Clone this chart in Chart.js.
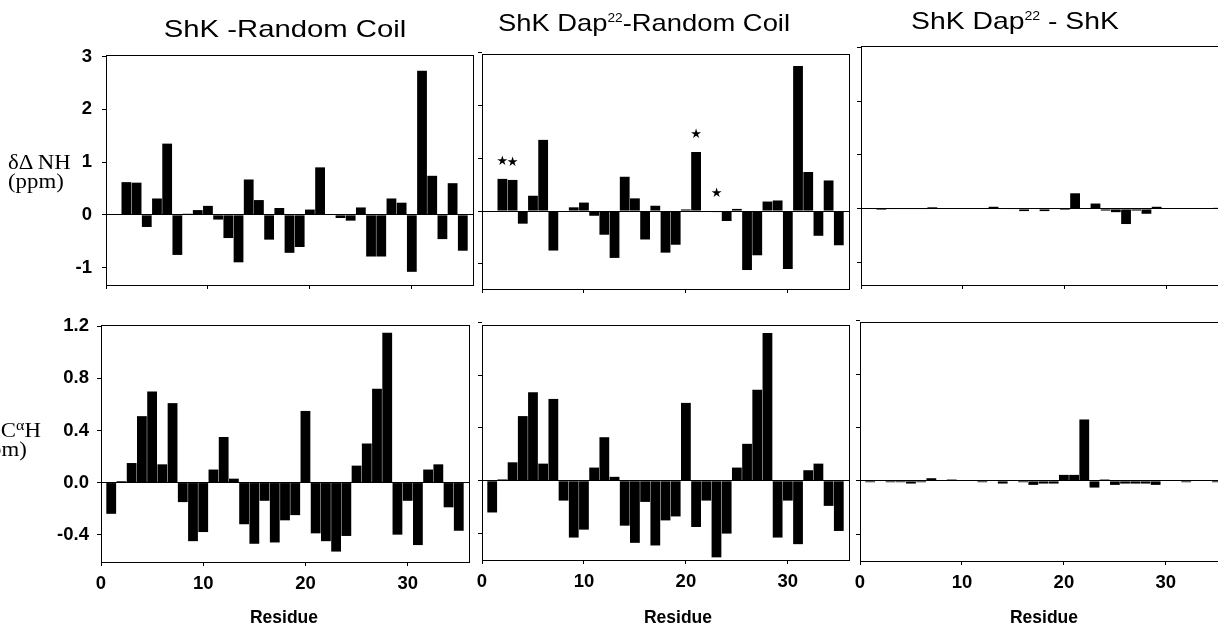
<!DOCTYPE html>
<html><head><meta charset="utf-8">
<script src="https://cdn.jsdelivr.net/npm/chart.js@4.4.1/dist/chart.umd.min.js"></script>
<style>
html,body{margin:0;padding:0;background:#fff;}
body{width:1218px;height:628px;overflow:hidden;position:relative;font-family:"Liberation Sans",Arial,sans-serif;color:#000;}
canvas{position:absolute;left:0;top:0;}
.title{position:absolute;font-size:24px;line-height:1;white-space:nowrap;transform:translateX(-50%) scaleX(1.22);}
.title sup{font-size:12px;line-height:0;vertical-align:baseline;position:relative;top:-9px;}
.ylab{position:absolute;font-family:"Liberation Serif","Times New Roman",serif;font-size:20px;line-height:19px;white-space:nowrap;transform-origin:left top;transform:scaleX(1.14);}
.ylab sup{font-size:14px;line-height:0;vertical-align:baseline;position:relative;top:-7px;}
.xlab{position:absolute;font-size:17.5px;font-weight:bold;line-height:1;transform:translateX(-50%);white-space:nowrap;}
</style></head>
<body>
<div class="title" style="left:285px;top:17px">ShK -Random Coil</div>
<div class="title" style="left:644px;top:11px;transform:translateX(-50%) scaleX(1.14)">ShK Dap<sup>22</sup>-Random Coil</div>
<div class="title" style="left:1015px;top:9px;transform:translateX(-50%) scaleX(1.18)">ShK Dap<sup>22</sup> - ShK</div>
<div class="ylab" style="left:8px;top:153px">δΔ NH<br>(ppm)</div>
<div class="ylab" style="left:-29px;top:421px">δΔ C<sup>α</sup>H<br>(ppm)</div>
<div class="xlab" style="left:284px;top:609px">Residue</div>
<div class="xlab" style="left:678px;top:609px">Residue</div>
<div class="xlab" style="left:1044px;top:609px">Residue</div>
<script>
// ---- data ----
const residues = [1,2,3,4,5,6,7,8,9,10,11,12,13,14,15,16,17,18,19,20,21,22,23,24,25,26,27,28,29,30,31,32,33,34,35];
const nhShK   = [null,0.62,0.61,-0.23,0.31,1.35,-0.76,0.02,0.09,0.17,-0.09,-0.44,-0.90,0.67,0.28,-0.47,0.13,-0.72,-0.61,0.10,0.90,0.01,-0.06,-0.11,0.14,-0.79,-0.79,0.31,0.23,-1.08,2.73,0.74,-0.46,0.60,-0.68];
const nhDap   = [null,0.61,0.59,-0.24,0.29,1.35,-0.75,0.01,0.07,0.16,-0.09,-0.45,-0.89,0.65,0.24,-0.54,0.10,-0.79,-0.64,0.03,1.12,0.00,-0.02,-0.19,0.04,-1.12,-0.84,0.18,0.20,-1.10,2.75,0.74,-0.47,0.58,-0.65];
const nhDiff  = [null,-0.02,-0.01,-0.01,-0.01,-0.01,0.03,0,0,0,0.01,0,0.04,0,-0.01,-0.04,0,-0.04,0,-0.02,0.29,0,0.10,-0.03,-0.06,-0.28,-0.03,-0.09,0.04,0,0,0,0,0,0.02];
const caShK   = [-0.24,0.01,0.15,0.51,0.70,0.14,0.61,-0.15,-0.45,-0.38,0.10,0.35,0.03,-0.32,-0.47,-0.14,-0.46,-0.29,-0.25,0.55,-0.39,-0.45,-0.53,-0.41,0.13,0.30,0.72,1.15,-0.40,-0.14,-0.48,0.10,0.14,-0.19,-0.37];
const caDap   = [-0.24,0.01,0.14,0.49,0.67,0.13,0.62,-0.15,-0.43,-0.37,0.10,0.33,0.03,-0.34,-0.47,-0.16,-0.49,-0.30,-0.27,0.59,-0.35,-0.15,-0.58,-0.40,0.10,0.28,0.69,1.12,-0.43,-0.15,-0.48,0.08,0.13,-0.19,-0.38];
const caDiff  = [-0.01,0,-0.01,-0.01,-0.02,-0.01,0.02,0,0.01,0,0,-0.01,0,-0.02,0,-0.01,-0.03,-0.02,-0.02,0.045,0.045,0.46,-0.05,0.01,-0.03,-0.02,-0.02,-0.02,-0.03,0,0,-0.01,0,0,-0.01];
const starResidues = [2,3,21,23];
const xTicks  = [0,10,20,30];
const nhTicks = [-1,0,1,2,3];
const caTicks = [-0.4,0,0.4,0.8,1.2];

// ---- layout ----
const W = 1260, H = 628, YW = 60;
const FONT = '"Liberation Sans", Arial, sans-serif';

const boxPlugin = {id:'box', afterDraw(chart){
  const {ctx, chartArea:a} = chart;
  ctx.save(); ctx.strokeStyle = '#000'; ctx.lineWidth = 1;
  ctx.strokeRect(Math.round(a.left)+0.5, Math.round(a.top)+0.5, Math.round(a.right-a.left), Math.round(a.bottom-a.top));
  ctx.restore();
}};
const starPlugin = {id:'stars', afterDatasetsDraw(chart){
  const ctx = chart.ctx, xs = chart.scales.x, ys = chart.scales.y;
  ctx.save(); ctx.fillStyle = '#000'; ctx.font = '13px "DejaVu Sans", sans-serif';
  ctx.textAlign = 'center'; ctx.textBaseline = 'middle';
  starResidues.forEach(r => {
    const v = nhDap[residues.indexOf(r)] || 0;
    ctx.fillText('\u2605', xs.getPixelForValue(r), ys.getPixelForValue(Math.max(v,0)) - 17);
  });
  ctx.restore();
}};

function panel(values, area, yr, yTicks, showY, showX, yPad, decimals, extra){
  const c = document.createElement('canvas');
  c.width = W; c.height = H; c.style.width = W+'px'; c.style.height = H+'px';
  document.body.insertBefore(c, document.body.firstChild);
  const XH = showX ? 40 : 10;
  new Chart(c.getContext('2d'), {
    type:'bar',
    data:{datasets:[{
      data: residues.map((r,i)=>({x:r, y:values[i]})),
      backgroundColor:'#000', borderWidth:0, barPercentage:0.96, categoryPercentage:1
    }]},
    options:{
      responsive:false, animation:false, events:[],
      layout:{padding:{left:area.l-YW, right:W-area.r, top:area.t, bottom:H-area.b-XH}},
      plugins:{legend:{display:false}, tooltip:{enabled:false}},
      scales:{
        x:{type:'linear', min:0, max:36, offset:false,
           afterBuildTicks:s=>{s.ticks = xTicks.map(v=>({value:v}));},
           afterFit:s=>{s.height = XH;},
           grid:{offset:false, drawOnChartArea:false, color:'#000', tickColor:'#000', tickLength:4},
           border:{display:false},
           ticks:{display:showX, color:'#000', font:{family:FONT, size:18.5, weight:'bold'}, padding:7, maxRotation:0, autoSkip:false}},
        y:{type:'linear', min:yr[0], max:yr[1],
           afterBuildTicks:s=>{s.ticks = yTicks.map(v=>({value:v}));},
           afterFit:s=>{s.width = YW;},
           grid:{color:ctx=> (ctx.tick && ctx.tick.value===0) ? '#000' : 'rgba(0,0,0,0)', tickColor:'#000', tickLength:4, lineWidth:1},
           border:{display:false},
           ticks:{display:showY, color:'#000', font:{family:FONT, size:18.5, weight:'bold'}, padding:yPad,
                  callback:v=> decimals ? Number(v).toFixed(decimals) : String(v)}}
      }
    },
    plugins: extra ? [boxPlugin, extra] : [boxPlugin]
  });
}

panel(nhShK,  {l:106,r:473,t:55,b:285},  [-1.33,3.03], nhTicks, true,  false, 10, 0);
panel(nhDap,  {l:482,r:849,t:54,b:289},  [-1.48,2.98], nhTicks, false, false, 10, 0, starPlugin);
panel(nhDiff, {l:861,r:1228,t:46,b:285}, [-1.41,3.02], nhTicks, false, false, 10, 0);
panel(caShK,  {l:101,r:469,t:325,b:562}, [-0.61,1.21], caTicks, true,  true,  8, 1);
panel(caDap,  {l:482,r:849,t:325,b:560}, [-0.60,1.18], caTicks, false, true,  8, 1);
panel(caDiff, {l:860,r:1227,t:322,b:561},[-0.60,1.19], caTicks, false, true,  8, 1);
</script>
</body></html>
